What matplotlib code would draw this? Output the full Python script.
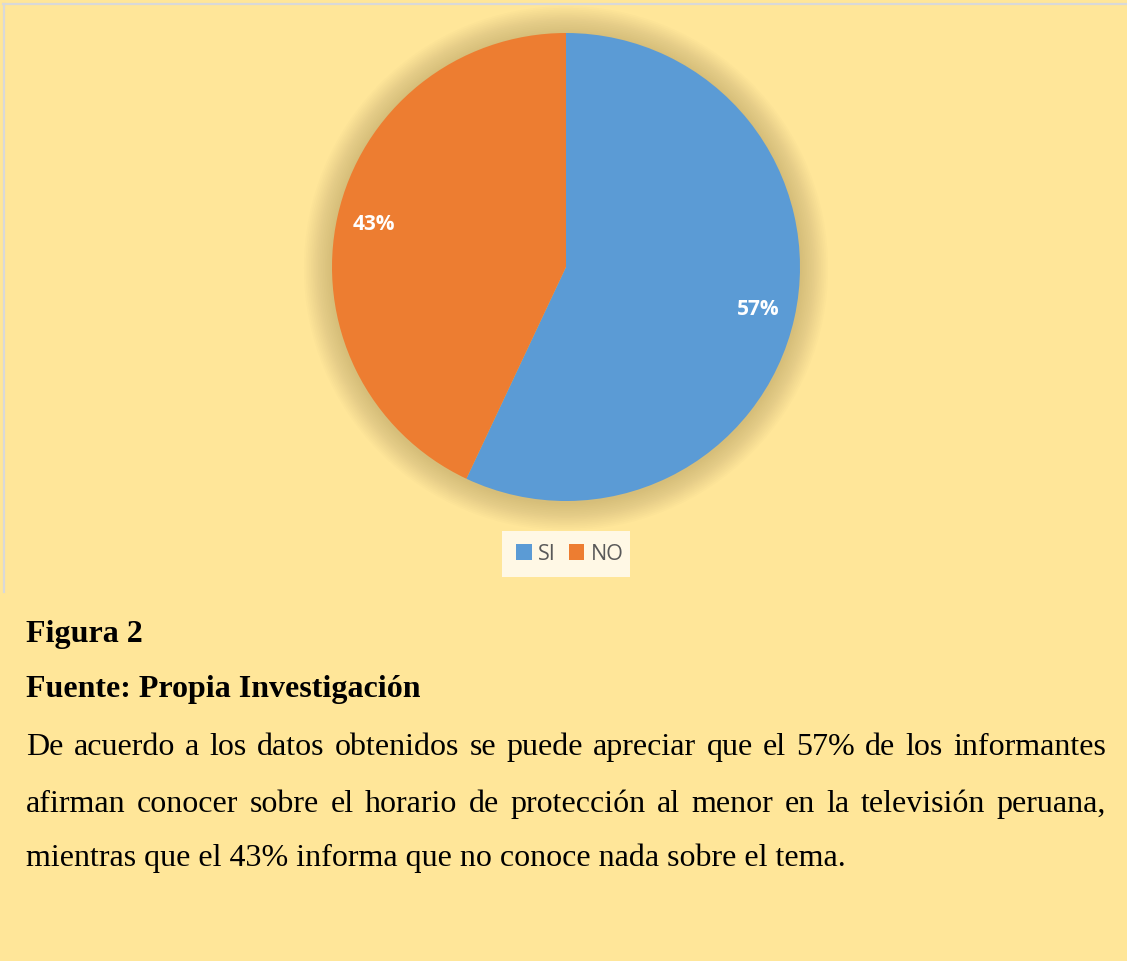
import matplotlib
matplotlib.use("Agg")
import matplotlib.pyplot as plt
from matplotlib.patches import Circle, Patch, Rectangle
from matplotlib.lines import Line2D

# Data
labels = ["SI", "NO"]
values = [57, 43]
colors = ["#5B9BD5", "#ED7D31"]

caption_title = "Figura 2"
caption_source = "Fuente: Propia Investigación"
body_lines = [
    "De acuerdo a los datos obtenidos se puede apreciar que el 57% de los informantes",
    "afirman conocer sobre el horario de protección al menor en la televisión peruana,",
    "mientras que el 43% informa que no conoce nada sobre el tema.",
]

W, H = 1127, 961
BG = "#FFE699"
SERIF = "Liberation Serif"

fig = plt.figure(figsize=(W / 100, H / 100), dpi=100, facecolor=BG)

# chart border (top and left visible)
fig.add_artist(Line2D([3 / W, 1.0], [1 - 4 / H, 1 - 4 / H], color="#D9D9D9", lw=1.6))
fig.add_artist(Line2D([4 / W, 4 / W], [1 - 4 / H, 1 - 592 / H], color="#D9D9D9", lw=1.6))

# pie axes in pixel layout
cx, cy, R = 566, 267, 234
pad = 1.2
half = R * pad
ax = fig.add_axes([(cx - half) / W, (H - cy - half) / H, 2 * half / W, 2 * half / H])
ax.set_aspect("equal")
ax.axis("off")

# soft shadow around the pie
n = 16
for k in range(n, 0, -1):
    ax.add_patch(Circle((0, -0.005), 1 + 0.12 * k / n, color="#9C8858", alpha=0.026, lw=0))

wedges, texts, autotexts = ax.pie(
    values, colors=colors, startangle=90, counterclock=False, radius=1,
    autopct="%1.0f%%", pctdistance=0.84, wedgeprops=dict(linewidth=0),
    textprops=dict(color="white", fontweight="bold", fontsize=15, family="Open Sans"))
ax.set_xlim(-pad, pad)
ax.set_ylim(-pad, pad)

# legend box + entries
fig.add_artist(Rectangle((502 / W, 1 - 577 / H), 128 / W, 46 / H, transform=fig.transFigure,
                         facecolor="#FFF8E5", edgecolor="none"))
handles = [Patch(facecolor=c, edgecolor="none") for c in colors]
leg = fig.legend(handles, labels, loc="center", bbox_to_anchor=(570 / W, 1 - 554 / H),
                 ncol=2, frameon=False, handlelength=0.72, handleheight=0.72, handletextpad=0.3,
                 columnspacing=0.6, borderpad=0, borderaxespad=0,
                 prop=dict(family="Open Sans", size=15.5))
for t in leg.get_texts():
    t.set_color("#595959")

# caption text
fs = 23
fig.text(26 / W, 1 - 642 / H, caption_title, family=SERIF, fontweight="bold", fontsize=fs, va="baseline")
fig.text(26 / W, 1 - 697 / H, caption_source, family=SERIF, fontweight="bold", fontsize=fs, va="baseline")

renderer = fig.canvas.get_renderer()


def justify(line, x0, x1, y):
    words = line.split()
    widths = []
    for w in words:
        t = fig.text(0, 0, w, family=SERIF, fontsize=fs)
        widths.append(t.get_window_extent(renderer).width)
        t.remove()
    gap = (x1 - x0 - sum(widths)) / (len(words) - 1)
    x = x0
    for w, wd in zip(words, widths):
        fig.text(x / W, 1 - y / H, w, family=SERIF, fontsize=fs, va="baseline")
        x += wd + gap


baselines = [755, 812, 866]
justify(body_lines[0], 26, 1106, baselines[0])
justify(body_lines[1], 26, 1106, baselines[1])
fig.text(26 / W, 1 - baselines[2] / H, body_lines[2], family=SERIF, fontsize=fs, va="baseline")

fig.savefig("out.png", dpi=100, facecolor=BG)
